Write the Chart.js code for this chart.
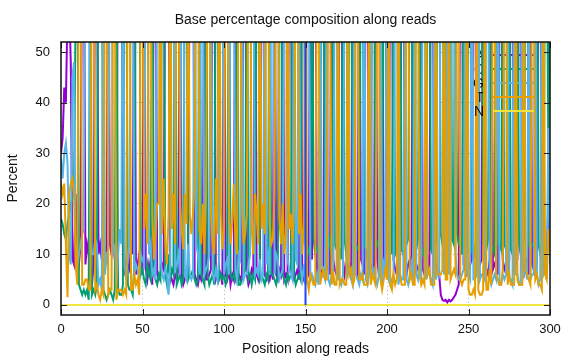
<!DOCTYPE html>
<html><head><meta charset="utf-8">
<script src="https://cdn.jsdelivr.net/npm/chart.js@4/dist/chart.umd.min.js"></script>
<style>html,body{margin:0;padding:0;background:#fff}canvas{display:block}</style>
</head><body>
<canvas id="c" width="576" height="360" style="width:576px;height:360px"></canvas>
<script>
const chartTitle = "Base percentage composition along reads";
const xTitle = "Position along reads";
const yTitle = "Percent";
const seriesNames = ["A", "C", "G", "T", "N"];
const seriesColors = ["#9400d3", "#009e73", "#56b4e9", "#e69f00", "#f0e442"];
const xTicks = [0, 50, 100, 150, 200, 250, 300];
const yTicks = [0, 10, 20, 30, 40, 50];
const positions = Array.from({length: 301}, (_, i) => i);

const A = [
30,33,43,40,58,60,48,9,8,22, 10,8,12,80,78,8,12,10,5,4,
8,82,80,10,12,9,14,10,8,85, 12,10,14,9,12,84,80,83,10,7,
9,8,7,12,10,80,6,8,10,8, 6,80,7,5,8,6,4,78,82,6,
5,6,8,7,80,82,78,6,5,4, 6,5,7,80,6,4,5,7,6,80,
82,80,6,5,4,6,5,7,82,5, 5,6,7,80,83,5,6,7,6,4,
81,6,5,7,4,6,5,80,7,6, 5,6,82,80,6,4,5,7,6,83,
6,5,7,80,82,6,5,6,5,7, 5,82,6,5,7,6,80,5,6,5,
81,80,6,5,6,7,5,80,6,5, 8,7,6,80,9,78,82,6,8,7,
6,8,78,7,8,6,80,9,7,6, 7,80,82,9,6,8,7,8,6,80,
8,7,6,80,9,8,6,80,83,7, 7,8,6,80,9,6,8,81,7,8,
6,8,80,82,9,7,6,8,7,80, 81,7,6,8,9,7,80,6,8,7,
6,80,7,6,8,9,6,80,82,7, 8,7,6,2,1,0.8,1,0.5,1,0.7,
1,1.5,2,3,4,78,80,8,7,6, 7,8,9,80,82,8,7,8,9,79,
8,7,6,9,80,7,8,9,6,80, 81,9,7,8,6,9,80,82,7,8,
9,80,82,7,6,8,9,6,80,8, 7,6,8,80,81,8,7,9,10,20,12
];
const C = [
17,16,14,13,16,18,20,21,22,60, 78,4,3,2,3,2,3,1,80,2,
3,2,4,84,82,85,3,2,1,2, 3,2,1,3,83,3,2,2,4,82,
84,4,3,3,2,8,82,80,83,6, 7,5,4,8,6,5,80,6,5,4,
6,5,78,80,6,4,10,5,7,6, 82,4,5,6,4,5,79,80,5,6,
6,7,5,4,5,81,6,5,4,80, 6,4,5,6,4,78,82,5,6,5,
6,4,5,80,6,5,6,5,82,4, 4,5,6,7,80,5,6,4,6,5,
80,83,5,6,5,4,6,5,82,6, 6,5,4,6,81,80,6,5,4,6,
5,6,82,6,4,5,6,5,82,80, 12,10,11,9,80,13,10,11,12,10,
80,79,12,10,11,13,10,80,12,11, 12,11,9,80,13,10,12,79,82,12,
10,12,11,11,80,81,12,11,9,12, 13,80,82,11,12,13,10,12,80,79,
11,12,12,10,79,10,11,13,81,11, 10,11,12,13,80,79,12,10,11,13,
80,12,10,11,12,78,81,11,10,12, 12,80,82,14,12,13,84,12,15,83,
13,12,82,14,12,12,10,80,12,11, 80,81,11,12,10,11,12,82,80,12,
12,11,13,78,12,11,10,80,12,12, 11,78,12,11,12,80,11,10,12,13,
80,12,10,11,13,78,80,12,11,12, 12,11,80,12,10,12,11,78,80,30,70
];
const G = [
29,25,30,32,28,10,8,45,48,10, 8,10,12,14,15,85,80,86,12,10,
10,13,12,4,5,3,81,6,10,11, 82,85,10,12,4,10,15,12,84,8,
5,10,12,82,85,6,8,7,5,10, 9,8,80,82,10,12,6,7,5,81,
80,10,6,5,7,6,2,8,82,80, 7,8,10,6,82,80,6,5,12,6,
5,6,80,12,10,6,82,78,6,7, 8,10,80,6,5,7,5,9,81,82,
6,8,9,6,82,80,81,7,5,10, 9,81,5,6,6,8,10,82,80,6,
7,6,9,5,6,81,8,10,6,80, 82,6,10,9,5,6,7,83,82,9,
7,6,5,81,9,8,80,7,5,8, 4,78,80,5,6,5,4,6,4,79,
8,6,5,78,5,4,6,5,77,79, 5,5,4,6,77,78,6,7,5,4,
77,6,5,4,6,5,78,5,4,6, 76,6,7,5,4,6,77,4,8,6,
78,5,4,5,6,79,78,4,6,5, 5,78,5,4,6,8,4,80,6,5,
8,4,78,79,5,7,6,5,4,77, 5,7,6,78,80,6,10,82,6,11,
80,79,10,6,5,5,6,7,76,6, 6,5,78,5,5,6,78,5,6,6,
5,79,78,6,4,5,6,5,77,4, 4,6,5,6,78,5,5,4,77,6,
6,4,4,78,6,7,5,77,5,6, 6,78,6,4,5,77,6,7,5,35,8
];
const T = [
24,22,24,12,1.5,22,24,25,22,8, 4,78,82,4,4,5,5,3,3,84,
79,3,4,2,1,3,2,82,81,2, 3,3,75,76,1,3,3,3,2,3,
2,78,78,3,3,6,4,5,2,76, 78,15,22,12,76,77,18,9,14,20,
20,79,14,25,12,8,18,81,15,22, 12,83,78,20,15,11,22,16,77,18,
14,18,24,79,81,15,12,20,10,22, 81,80,18,12,10,25,14,79,20,11,
15,82,81,20,12,16,24,13,10,80, 82,20,12,14,18,83,79,15,10,22,
18,12,79,15,20,14,81,79,16,12, 13,22,80,80,17,12,20,10,14,80,
15,18,12,20,81,80,14,22,10,16, 76,5,3,6,5,4,4,77,76,4,
6,7,5,5,76,77,4,6,4,4, 76,4,5,5,4,4,75,6,7,4,
5,75,78,5,5,6,4,4,4,75, 4,6,5,4,75,75,5,3,5,7,
5,75,4,3,6,4,5,75,6,4, 4,4,77,75,5,6,4,4,75,75,
6,4,5,4,75,6,7,4,4,4, 75,6,6,6,7,80,5,5,78,5,
6,7,6,77,79,5,4,5,5,77, 3,2,2,3,2,75,3,2,2,3,
75,3,3,7,4,77,76,6,5,4, 4,7,76,75,4,6,4,4,4,73,
5,4,4,4,75,7,6,5,4,74, 75,5,6,4,4,3,76,6,5,15,10
];
const N = [
0,0,0,0,0,0,0,0,0,0,0,0,0,0,0,0,0,0,0,0,0,0,0,0,0,0,0,0,0,0,
0,0,0,0,0,0,0,0,0,0,0,0,0,0,0,0,0,0,0,0,0,0,0,0,0,0,0,0,0,0,
0,0,0,0,0,0,0,0,0,0,0,0,0,0,0,0,0,0,0,0,0,0,0,0,0,0,0,0,0,0,
0,0,0,0,0,0,0,0,0,0,0,0,0,0,0,0,0,0,0,0,0,0,0,0,0,0,0,0,0,0,
0,0,0,0,0,0,0,0,0,0,0,0,0,0,0,0,0,0,0,0,0,0,0,0,0,0,0,0,0,0,
0,0,0,0,0,0,0,0,0,0,0,0,0,0,0,0,0,0,0,0,0,0,0,0,0,0,0,0,0,0,
0,0,0,0,0,0,0,0,0,0,0,0,0,0,0,0,0,0,0,0,0,0,0,0,0,0,0,0,0,0,
0,0,0,0,0,0,0,0,0,0,0,0,0,0,0,0,0,0,0,0,0,0,0,0,0,0,0,0,0,0,
0,0,0,0,0,0,0,0,0,0,0,0,0,0,0,0,0,0,0,0,0,0,0,0,0,0,0,0,0,0,
0,0,0,0,0,0,0,0,0,0,0,0,0,0,0,0,0,0,0,0,0,0,0,0,0,0,0,0,0,0,0
];
const markerX = [150, 150];
const markerY = [0, 100];

const F = "'Liberation Sans', Arial, sans-serif";
const seriesValues = [A, C, G, T, N];
const toPts = (xs, ys) => ys.map((v, i) => ({x: xs[i], y: v}));

const datasets = seriesValues.map((vals, i) => ({
  label: seriesNames[i],
  data: toPts(positions, vals),
  borderColor: seriesColors[i],
  backgroundColor: seriesColors[i],
  borderWidth: 2,
  pointRadius: 0,
  tension: 0,
  fill: false,
  clip: 0,
  order: 10 - i
}));
datasets.push({
  label: "",
  data: toPts(markerX, markerY),
  borderColor: "#2244ff",
  borderWidth: 2,
  pointRadius: 0,
  fill: false,
  clip: 0,
  order: 0
});

const deco = {
  id: 'deco',
  beforeDatasetDraw(chart, args) {
    const i = args.index;
    if (i >= seriesNames.length) return;
    const ctx = chart.ctx, a = chart.chartArea;
    const y = a.top + 13 + 14 * i;
    ctx.save();
    ctx.font = "14px " + F;
    ctx.fillStyle = "#111";
    ctx.textAlign = "right";
    ctx.textBaseline = "middle";
    ctx.fillText(seriesNames[i], a.right - 66, y + 1);
    ctx.strokeStyle = seriesColors[i];
    ctx.lineWidth = 2;
    ctx.beginPath();
    ctx.moveTo(a.right - 57, y);
    ctx.lineTo(a.right - 16, y);
    ctx.stroke();
    ctx.restore();
  },
  afterDatasetsDraw(chart) {
    const ctx = chart.ctx, a = chart.chartArea;
    const xs = chart.scales.x, ys = chart.scales.y;
    ctx.save();
    ctx.strokeStyle = "#222";
    ctx.lineWidth = 1;
    ctx.beginPath();
    yTicks.forEach(v => {
      const p = Math.round(ys.getPixelForValue(v)) + 0.5;
      ctx.moveTo(a.left, p); ctx.lineTo(a.left + 6, p);
      ctx.moveTo(a.right, p); ctx.lineTo(a.right - 6, p);
    });
    xTicks.forEach(v => {
      const p = Math.round(xs.getPixelForValue(v)) + 0.5;
      ctx.moveTo(p, a.bottom); ctx.lineTo(p, a.bottom - 6);
      ctx.moveTo(p, a.top); ctx.lineTo(p, a.top + 6);
    });
    ctx.stroke();
    ctx.lineWidth = 1.5;
    ctx.strokeStyle = "#111";
    ctx.strokeRect(a.left, a.top, a.right - a.left, a.bottom - a.top);
    ctx.restore();
  },
  afterDraw(chart) {
    const ctx = chart.ctx, a = chart.chartArea;
    ctx.save();
    ctx.font = "14px " + F;
    ctx.fillStyle = "#111";
    ctx.textAlign = "center";
    ctx.textBaseline = "middle";
    ctx.fillText(chartTitle, (a.left + a.right) / 2, 20);
    ctx.restore();
  }
};

new Chart(document.getElementById('c'), {
  type: 'line',
  data: {datasets},
  plugins: [deco],
  options: {
    responsive: false,
    animation: false,
    devicePixelRatio: 1,
    layout: {padding: {top: 42, right: 26, left: 0, bottom: 0}},
    plugins: {legend: {display: false}, title: {display: false}, tooltip: {enabled: false}},
    scales: {
      x: {
        type: 'linear', min: 0, max: 300,
        afterFit(s) { s.height = 45; },
        afterBuildTicks(s) { s.ticks = xTicks.map(v => ({value: v})); },
        ticks: {padding: 7, color: '#111', font: {family: F, size: 13}, maxRotation: 0, autoSkip: false},
        grid: {color: 'rgba(160,160,160,0.8)', lineWidth: 1, drawTicks: false},
        border: {display: false, dash: [1, 3]},
        title: {display: true, text: xTitle, color: '#111', font: {family: F, size: 14}, padding: {top: 0, bottom: 2}}
      },
      y: {
        type: 'linear', min: -2, max: 52,
        afterFit(s) { s.width = 61; },
        afterBuildTicks(s) { s.ticks = yTicks.map(v => ({value: v})); },
        ticks: {padding: 11, color: '#111', font: {family: F, size: 13}, autoSkip: false},
        grid: {color: 'rgba(160,160,160,0.8)', lineWidth: 1, drawTicks: false},
        border: {display: false, dash: [1, 3]},
        title: {display: true, text: yTitle, color: '#111', font: {family: F, size: 14}, padding: {top: 5, bottom: 0}}
      }
    }
  }
});
</script>
</body></html>
